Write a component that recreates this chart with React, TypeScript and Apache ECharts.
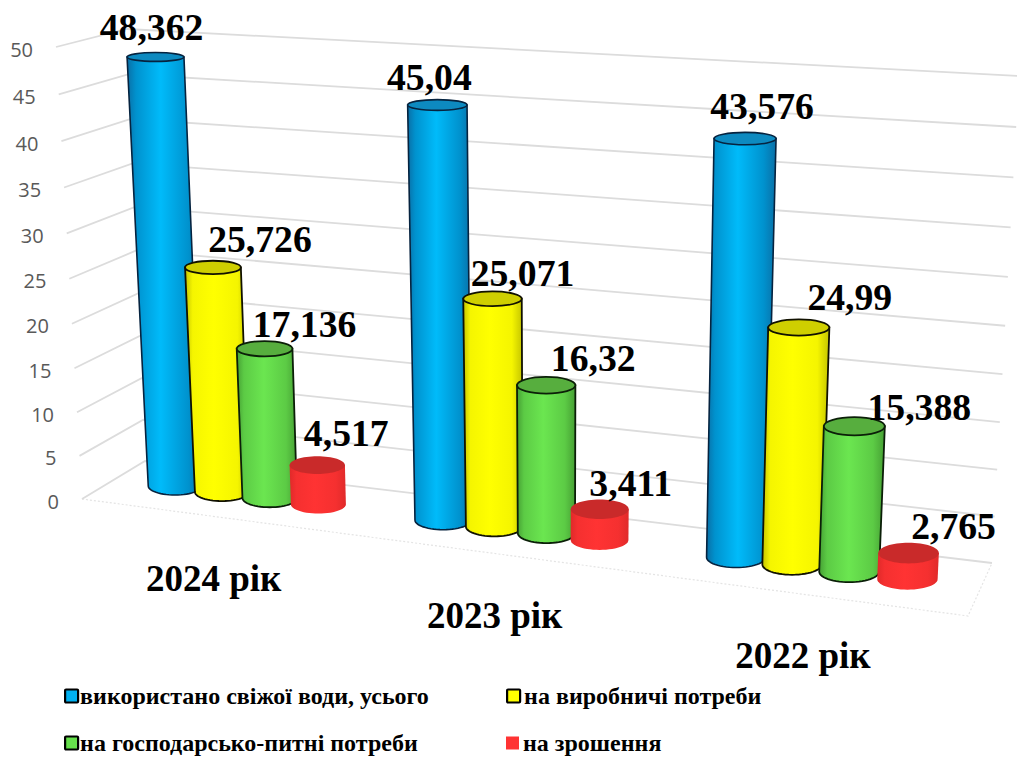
import React, { useEffect, useRef } from "react";
import * as echarts from "echarts";

const categories = ["2024 рік", "2023 рік", "2022 рік"];
const seriesNames = [
  "використано свіжої води, усього",
  "на виробничі потреби",
  "на господарсько-питні потреби",
  "на зрошення",
];
const totalUse = [48.362, 45.04, 43.576];
const production = [25.726, 25.071, 24.99];
const household = [17.136, 16.32, 15.388];
const irrigation = [4.517, 3.411, 2.765];
const yTicks = [0, 5, 10, 15, 20, 25, 30, 35, 40, 45, 50];

const seriesValues = [totalUse, production, household, irrigation];

// Flat plotting plane: one unit of x is one bar pitch, y is the water volume.
const GRID = { left: 0, top: 0, width: 160, height: 500 };
const X_MAX = 16;
const Y_MAX = 50;
const GROUP_START = [0, 5.48, 10.88];

// Projective map from the flat plane onto the tilted view of the bars;
// k is a small shear that flattens the far right of the view.
const BAR_PLANE = { a: 44.92, b: -0.5585, c: 175, d: 1.517, e: -8.928, f: 486, g: -0.00903, h: -0.001, k: 0.0115 };

const unflatten = (p: number[]) => [
  ((p[0] - GRID.left) / GRID.width) * X_MAX,
  ((GRID.top + GRID.height - p[1]) / GRID.height) * Y_MAX,
];

const projectBar = (flat: number[]) => {
  const [u, v] = unflatten(flat);
  const m = BAR_PLANE;
  const w = m.g * u + m.h * v + 1;
  return [(m.a * u + m.b * v + m.c) / w, (m.d * u + m.e * v + m.k * u * v + m.f) / w];
};

const barWidth = (u: number, v: number) => 53.5 + 0.5 * u + 0.07 * v;
const capRy = (u: number, v: number) => 9 - 0.095 * v + 0.12 * u;

// Walls of the 3D box: [bottom, top] anchor of each edge.
const lerp = (a: number[], b: number[], t: number) => [a[0] + (b[0] - a[0]) * t, a[1] + (b[1] - a[1]) * t];
const WALL_FRONT_LEFT = [[82, 499], [56, 47]];
const WALL_CORNER = [[145, 461], [127, 29]];
const WALL_RIGHT = [[992, 563], [1019, 76]];
const FLOOR_FRONT_RIGHT = [968, 616];
// The walls lean towards the viewer, so upper gridlines sit further apart.
const WALL_LEAN = 0.05;
const wallHeight = (t: number) => (t * (1 - WALL_LEAN)) / (1 - WALL_LEAN * t);

const SERIF = '"Liberation Serif", "Times New Roman", serif';

const palette = [
  { solid: "#00B0F0", edge: "#0A6FA6", mid: "#00BBFA", shoulder: "#0092CE", cap: "#0D8AC0", line: "#06233F", lw: 1.6 },
  { solid: "#FFFF00", edge: "#C4C400", mid: "#FFFF00", shoulder: "#F5F500", cap: "#CFCF00", line: "#111100", lw: 1.8 },
  { solid: "#66E04C", edge: "#46A034", mid: "#6BE650", shoulder: "#5CCB45", cap: "#57AE3E", line: "#0B1F08", lw: 1.8 },
  { solid: "#FF3333", edge: "#E02A2A", mid: "#FF3333", shoulder: "#F53030", cap: "#C92A2A", line: "none", lw: 0 },
];

// Nudge of every value label from its bar's cap centre, per series then group.
const labelNudge = [
  [[-4, -30], [-8, -28], [17, -33]],
  [[47, -28], [30, -26], [51, -30]],
  [[40, -25], [47, -27], [65, -19]],
  [[29, -32], [31, -26], [45, -27]],
];
const categoryNudge = [[-32, 84], [-25.5, 86], [-17.5, 88]];

const LEGEND_ICON = "path://M1,0H13Q14,0 14,1V13Q14,14 13,14H1Q0,14 0,13V1Q0,0 1,0Z";

// Bars within a group tighten slightly towards the right of the view.
const barX = (group: number, seriesIdx: number) => GROUP_START[group] + seriesIdx * (1 - 0.015 * group);

function renderGridLine(_: any, api: any) {
  const v = api.value(1);
  const t = wallHeight(unflatten(api.coord([0, v]))[1] / Y_MAX);
  const outer = lerp(WALL_FRONT_LEFT[0], WALL_FRONT_LEFT[1], t);
  const corner = lerp(WALL_CORNER[0], WALL_CORNER[1], t);
  const right = lerp(WALL_RIGHT[0], WALL_RIGHT[1], t);
  const lineStyle = { stroke: "#DCDCDC", lineWidth: 1.8, fill: "none" };
  return {
    type: "group",
    children: [
      { type: "polyline", shape: { points: [outer, corner, right] }, style: lineStyle },
      {
        type: "text",
        style: {
          text: String(v),
          x: outer[0] - 23,
          y: outer[1] + 2,
          align: "right",
          verticalAlign: "middle",
          fontFamily: '"Open Sans", sans-serif',
          fontSize: 20,
          fill: "#595959",
        },
      },
    ],
  };
}

function renderFloor() {
  const style = { stroke: "#E4E4E4", lineWidth: 1.2, lineDash: [2, 2], fill: "none" };
  return {
    type: "polyline",
    shape: { points: [WALL_FRONT_LEFT[0], FLOOR_FRONT_RIGHT, WALL_RIGHT[0]] },
    style,
  };
}

const makeCylinderRenderer = (seriesIdx: number) => (_: any, api: any) => {
  const u = api.value(0);
  const v = api.value(1);
  const colors = palette[seriesIdx];
  const top = projectBar(api.coord([u, v]));
  const base = projectBar(api.coord([u, 0]));
  const topRx = barWidth(u, v) / 2;
  const baseRx = barWidth(u, 0) / 2;
  const topRy = capRy(u, v);
  const baseRy = capRy(u, 0);

  const points: number[][] = [[top[0] - topRx, top[1]], [top[0] + topRx, top[1]]];
  const steps = 28;
  for (let i = 0; i <= steps; i++) {
    const a = (Math.PI * i) / steps;
    points.push([base[0] + baseRx * Math.cos(a), base[1] + baseRy * Math.sin(a)]);
  }
  const shade = new echarts.graphic.LinearGradient(0, 0, 1, 0, [
    { offset: 0, color: colors.edge },
    { offset: 0.12, color: colors.shoulder },
    { offset: 0.45, color: colors.mid },
    { offset: 0.82, color: colors.shoulder },
    { offset: 1, color: colors.edge },
  ]);
  return {
    type: "group",
    children: [
      {
        type: "polygon",
        shape: { points },
        style: { fill: shade, stroke: colors.line, lineWidth: colors.lw },
      },
      {
        type: "ellipse",
        shape: { cx: top[0], cy: top[1], rx: topRx, ry: topRy },
        style: { fill: colors.cap, stroke: colors.line, lineWidth: colors.lw },
      },
    ],
  };
};

function renderValueLabel(_: any, api: any) {
  const u = api.value(0);
  const v = api.value(1);
  const nudge = labelNudge[api.value(2)][api.value(3)];
  const top = projectBar(api.coord([u, v]));
  return {
    type: "text",
    style: {
      text: String(v).replace(".", ","),
      x: top[0] + nudge[0],
      y: top[1] + nudge[1],
      align: "center",
      verticalAlign: "middle",
      fontFamily: SERIF,
      fontWeight: "bold",
      fontSize: 37.7,
      fill: "#000000",
    },
  };
}

function renderCategoryLabel(_: any, api: any) {
  const group = api.value(0);
  const base = projectBar(api.coord([barX(group, 1.5), 0]));
  const nudge = categoryNudge[group];
  return {
    type: "text",
    style: {
      text: categories[group],
      x: base[0] + nudge[0],
      y: base[1] + nudge[1],
      align: "center",
      verticalAlign: "middle",
      fontFamily: SERIF,
      fontWeight: "bold",
      fontSize: 37,
      fill: "#000000",
    },
  };
}

const legendSlots = [
  { left: 64, top: 684, textShift: -3 },
  { left: 506, top: 684, textShift: -1 },
  { left: 64, top: 731, textShift: -3 },
  { left: 506, top: 731, textShift: -1 },
];

function buildOption() {
  const custom = {
    type: "custom",
    coordinateSystem: "cartesian2d",
    clip: false,
    silent: true,
  };
  return {
    animation: false,
    backgroundColor: "#FFFFFF",
    grid: { ...GRID, containLabel: false },
    xAxis: { type: "value", min: 0, max: X_MAX, show: false },
    yAxis: { type: "value", min: 0, max: Y_MAX, interval: 5, show: false },
    legend: seriesNames.map((name, i) => ({
      data: [
        {
          name,
          icon: i === 3 ? "rect" : LEGEND_ICON,
          itemStyle: {
            color: palette[i].solid,
            borderColor: i === 3 ? palette[i].solid : "#000000",
            borderWidth: i === 3 ? 0 : 2.2,
          },
        },
      ],
      left: legendSlots[i].left,
      top: legendSlots[i].top,
      padding: 0,
      itemWidth: 13,
      itemHeight: 13,
      itemGap: 0,
      selectedMode: false,
      textStyle: {
        fontFamily: SERIF,
        fontWeight: "bold",
        fontSize: 24,
        color: "#000000",
        padding: [0, 0, 0, legendSlots[i].textShift],
      },
    })),
    series: [
      { ...custom, name: "floor", data: [[0, 0]], renderItem: renderFloor, z: 1 },
      { ...custom, name: "gridlines", data: yTicks.map((t) => [0, t]), renderItem: renderGridLine, z: 1 },
      ...seriesNames.map((name, s) => ({
        ...custom,
        name,
        color: palette[s].solid,
        data: seriesValues[s].map((val, g) => [barX(g, s), val]),
        renderItem: makeCylinderRenderer(s),
        z: 2 + s,
      })),
      {
        ...custom,
        name: "values",
        data: seriesValues.flatMap((vals, s) => vals.map((val, g) => [barX(g, s), val, s, g])),
        encode: { x: 0, y: 1 },
        renderItem: renderValueLabel,
        z: 10,
      },
      {
        ...custom,
        name: "categories",
        data: categories.map((_, g) => [g, 0]),
        renderItem: renderCategoryLabel,
        z: 10,
      },
    ],
  };
}

export default function App() {
  const ref = useRef<HTMLDivElement>(null);
  useEffect(() => {
    document.body.style.margin = "0";
    const chart = echarts.init(ref.current!, null, { renderer: "svg" });
    chart.setOption(buildOption() as any);
    return () => chart.dispose();
  }, []);
  return <div ref={ref} style={{ width: 1017, height: 757 }} />;
}
